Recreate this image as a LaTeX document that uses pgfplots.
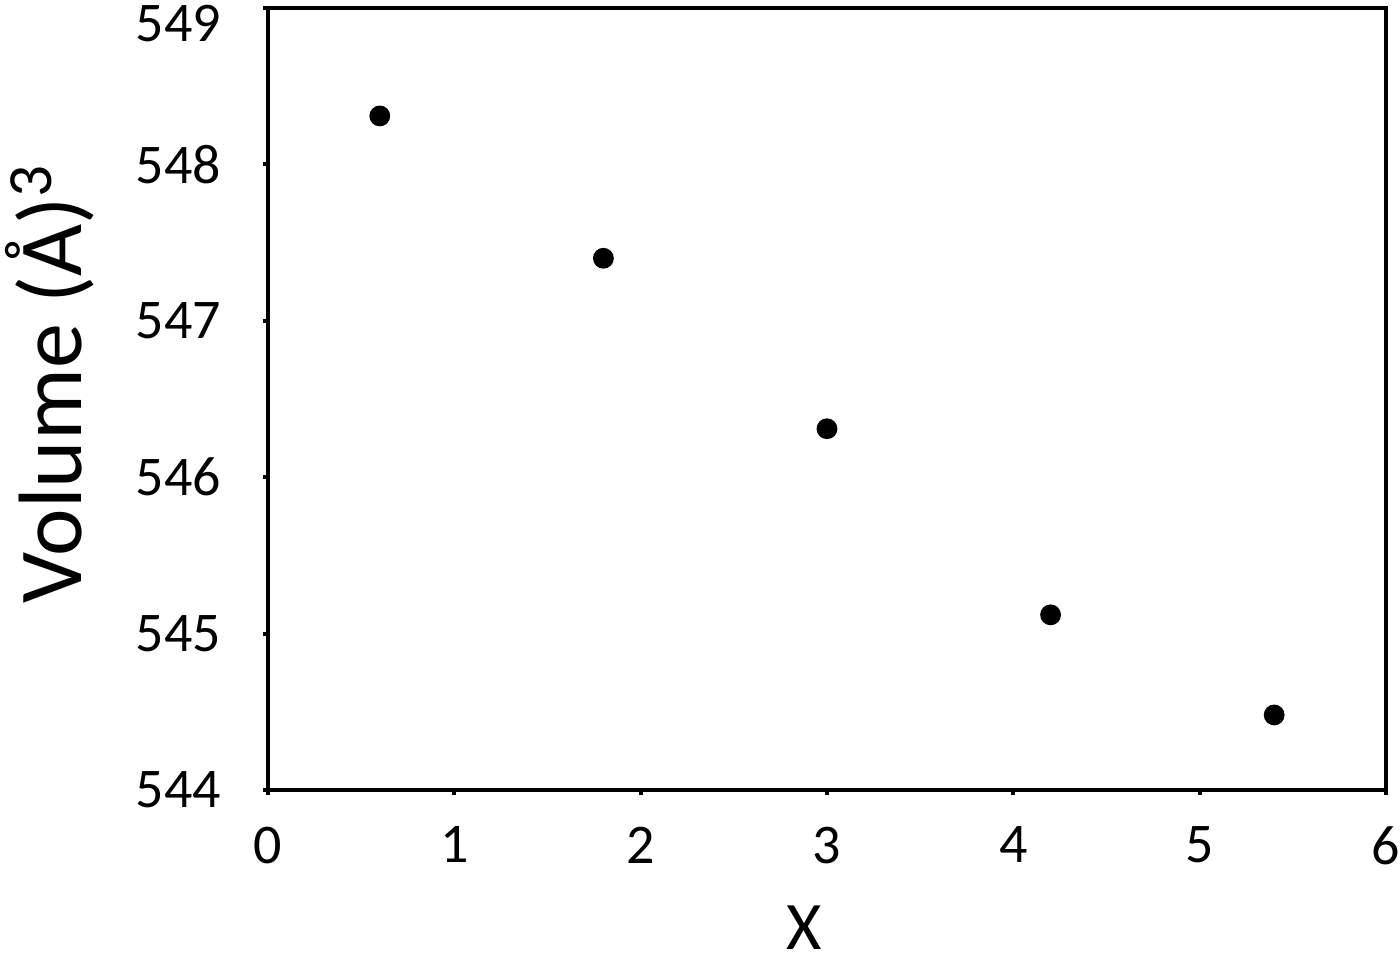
\documentclass[border=0pt]{standalone}
\usepackage{fontspec}
\setmainfont{Carlito}
\usepackage{pgfplots}
\pgfplotsset{compat=1.18}
\begin{document}
\begin{tikzpicture}
\path[use as bounding box] (-67pt,-43.75pt) rectangle (283pt,197.5pt);
\begin{axis}[
  at={(0,0)}, anchor=south west,
  scale only axis,
  width=279.5pt, height=195.5pt,
  xmin=0, xmax=6, ymin=544, ymax=549,
  xtick={0,1,2,3,4,5,6},
  ytick={544,545,546,547,548},
  extra y ticks={549},
  extra y tick style={yticklabel style={yshift=-4pt}},
  tick align=outside,
  major tick length=1.2pt,
  xtick pos=left, ytick pos=left,
  axis line style={line width=1pt},
  tick style={line width=1pt, black},
  /pgf/number format/assume math mode=true,
  /pgf/number format/.cd, 1000 sep={}, /pgfplots/.cd,
  tick label style={font=\fontsize{14}{16}\selectfont},
  xticklabel style={yshift=-4.5pt},
  yticklabel style={xshift=-7pt},
  xlabel={X},
  ylabel={Volume (Å)\textsuperscript{3}},
  xlabel style={font=\fontsize{17}{19}\selectfont, at={(axis description cs:0.48,-0.176)}, anchor=center},
  ylabel style={font=\fontsize{22.5}{25}\selectfont, at={(axis description cs:-0.195,0.52)}, anchor=center},
]
\addplot[only marks, mark=*, mark size=2.4pt, black] coordinates {
  (0.6,548.31) (1.8,547.40) (3.0,546.31) (4.2,545.12) (5.4,544.48)
};
\end{axis}
\end{tikzpicture}
\end{document}
